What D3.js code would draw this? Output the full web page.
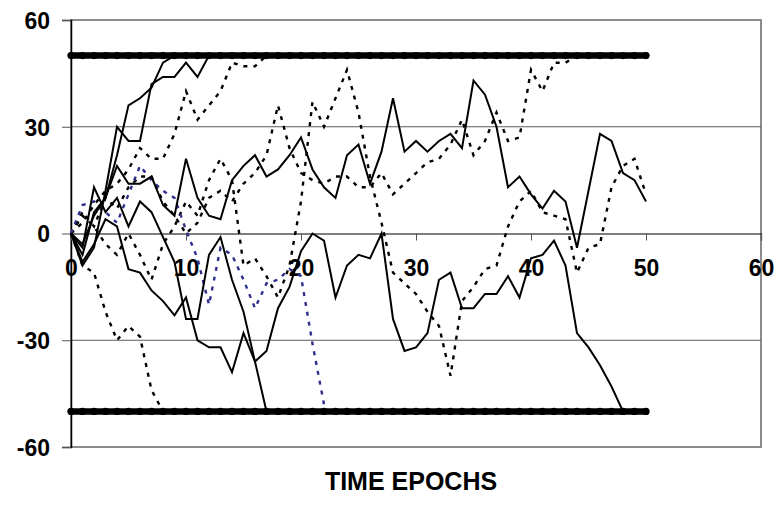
<!DOCTYPE html>
<html><head><meta charset="utf-8">
<script src="https://cdn.jsdelivr.net/npm/d3@7"></script>
<style>
body{margin:0;background:#fff}
svg{display:block}
text{font-family:Arial,"Liberation Sans",Helvetica,sans-serif;font-weight:bold;fill:#000}
</style>
</head><body>
<svg id="chart" width="778" height="509"></svg>
<script>
// Axis ticks
const xTicks = [0, 10, 20, 30, 40, 50, 60];
const yTicks = [-60, -30, 0, 30, 60];
const xTitle = "TIME EPOCHS";

// Absorbing boundaries (upper / lower) and the epoch range they span
const boundaryLevels = [50, -50];
const boundaryEpochs = d3.range(0, 51);

// Random walks, one value per time epoch starting at epoch 0
const walkSolid1 = [0,-6,6,10,22,36,38,41,48,50];
const walkSolid2 = [0,-9,-4,12,30,26,26,42,44,44,48,44,50];
const walkSolid3 = [0,-3,5,10,19,14,14,16,8,5,21,10,5,4,15,19,22,16,18,22,27,18,13,10,22,25,14,23,38,23,26,23,26,28,24,43,39,30,13,16,11,7,12,9,-4,12,28,26,17,15,9];
const walkSolid4 = [0,-8,-3,4,2,-10,-11,-16,-19,-23,-18,-30,-32,-32,-39,-28,-36,-33,-21,-15,-5,0,-2,-18,-9,-6,-7,0,-24,-33,-32,-28,-13,-11,-21,-21,-17,-17,-12,-18,-7,-6,-2,-9,-28,-32,-37,-43,-50];
const walkSolid5 = [0,-4,13,6,10,2,9,6,-1,-8,-24,-24,-6,-1,-13,-22,-36,-50];

const walkDot1 = [0,3,8,12,14,18,24,21,21,28,40,32,36,40,48,47,47,50];
const walkDot2 = [0,5,2,-3,-6,0,-6,-13,-3,2,9,5,15,21,15,-9,-7,-12,-18,-9,9,37,30,38,46,34,16,3,-11,-14,-17,-22,-26,-40,-19,-15,-10,-9,2,9,12,6,5,4,-11,-4,-3,13,19,21,11];
const walkDot3 = [0,6,2,10,7,13,16,16,9,5,0,3,10,12,9,14,17,22,36,24,17,15,14,16,16,13,13,17,11,14,17,20,21,25,32,22,26,34,26,27,46,40,48,48,50];
const walkDot4 = [0,-9,-11,-22,-30,-26,-29,-44,-50];
const walkBlue = [0,8,9,6,3,11,19,15,12,10,1,-7,-20,-4,-6,-13,-21,-14,-13,-10,-12,-31,-48];

const svg = d3.select("#chart");
const x = d3.scaleLinear().domain([0, 60]).range([71, 761]);
const y = d3.scaleLinear().domain([-60, 60]).range([447, 20]);

// plot frame
svg.append("rect")
  .attr("x", x(0)).attr("y", y(60))
  .attr("width", x(60) - x(0)).attr("height", y(-60) - y(60))
  .attr("fill", "none").attr("stroke", "#8c8c8c").attr("stroke-width", 2);

// horizontal gridlines
svg.append("g").selectAll("line")
  .data(yTicks.filter(v => v !== 0 && Math.abs(v) !== 60))
  .join("line")
  .attr("x1", x(0)).attr("x2", x(60))
  .attr("y1", d => y(d)).attr("y2", d => y(d))
  .attr("stroke", "#5a5a5a").attr("stroke-width", 1);

const fmt = d => String(d);

// y axis
const yAxis = svg.append("g")
  .attr("transform", `translate(${x(0)},0)`)
  .call(d3.axisLeft(y).tickValues(yTicks).tickFormat(fmt).tickSize(9).tickPadding(12));
yAxis.select(".domain").attr("stroke", "#000").attr("stroke-width", 1.5);
yAxis.selectAll(".tick line").attr("stroke", "#555");
yAxis.selectAll("text").style("font-size", "23px").attr("dy", "0.36em");

// x axis through zero
const xAxis = svg.append("g")
  .attr("transform", `translate(0,${y(0)})`)
  .call(d3.axisBottom(x).tickValues(xTicks).tickFormat(fmt).tickSize(7).tickPadding(19));
xAxis.select(".domain").attr("stroke", "#000").attr("stroke-width", 1.2);
xAxis.selectAll(".tick line").attr("stroke", "#555");
xAxis.selectAll("text").style("font-size", "23px");

svg.append("text")
  .attr("x", 411).attr("y", 490)
  .attr("text-anchor", "middle")
  .style("font-size", "25px")
  .text(xTitle);

const line = d3.line().x((d, i) => x(i)).y(d => y(d));

// absorbing boundaries: thick marker lines
boundaryLevels.forEach(level => {
  svg.append("path")
    .datum(boundaryEpochs.map(() => level))
    .attr("d", line)
    .attr("fill", "none").attr("stroke", "#000")
    .attr("stroke-width", 6.5).attr("stroke-linecap", "round");
  svg.append("g").selectAll("circle")
    .data(boundaryEpochs)
    .join("circle")
    .attr("cx", d => x(d)).attr("cy", y(level)).attr("r", 3.6)
    .attr("fill", "#000");
});

const dotted = [walkDot1, walkDot2, walkDot3, walkDot4];
const solid = [walkSolid1, walkSolid2, walkSolid3, walkSolid4, walkSolid5];

svg.append("g").selectAll("path")
  .data(dotted)
  .join("path")
  .attr("d", line)
  .attr("fill", "none").attr("stroke", "#000")
  .attr("stroke-width", 2.4).attr("stroke-dasharray", "4,6");

svg.append("path")
  .datum(walkBlue)
  .attr("d", line)
  .attr("fill", "none").attr("stroke", "#2e2e8c")
  .attr("stroke-width", 2.4).attr("stroke-dasharray", "4,6");

svg.append("g").selectAll("path")
  .data(solid)
  .join("path")
  .attr("d", line)
  .attr("fill", "none").attr("stroke", "#000")
  .attr("stroke-width", 2).attr("stroke-linejoin", "miter");
</script>
</body></html>
